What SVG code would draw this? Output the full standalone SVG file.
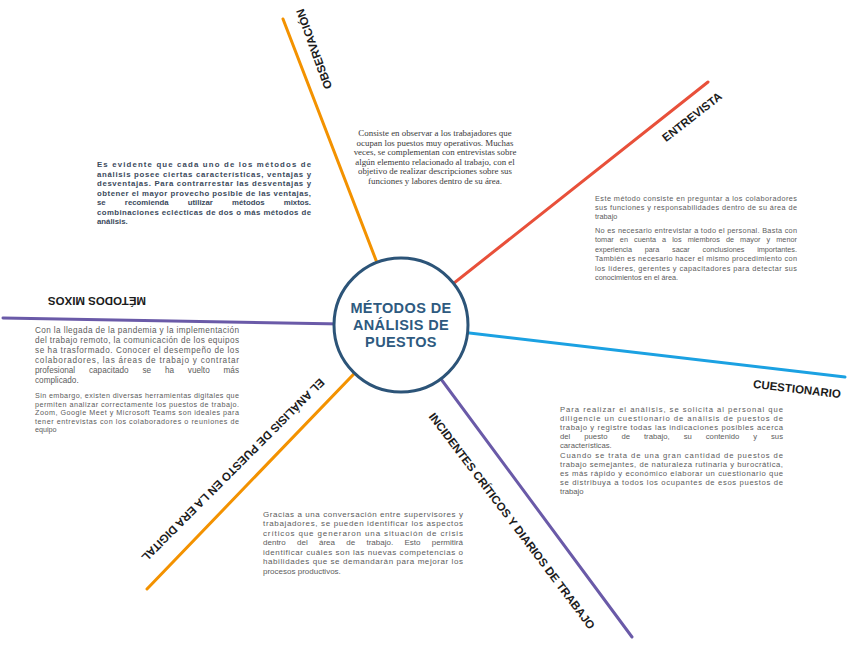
<svg xmlns="http://www.w3.org/2000/svg" width="848" height="655" viewBox="0 0 848 655">
<style>
.lbl{font-family:"Liberation Sans",Arial,sans-serif;font-weight:bold;font-size:11.5px;fill:#1c1c1c;text-anchor:middle}
.body{font-family:"Liberation Sans",Arial,sans-serif;fill:#5c5c5c}
.bold{font-family:"Liberation Sans",Arial,sans-serif;font-size:7.8px;font-weight:bold;fill:#3b4a5c}
.serif{font-family:"Liberation Serif","Times New Roman",serif;font-size:8.9px;fill:#3a3a3a;text-anchor:middle}
.br{fill:none;stroke-width:3;stroke-linecap:round}
.ctr{font-family:"Liberation Sans",Arial,sans-serif;font-weight:bold;font-size:14.5px;fill:#2e5a80;text-anchor:middle;letter-spacing:0.4px}
</style>
<rect width="848" height="655" fill="#ffffff"/>
<g id="connectors">
 <line class="br" x1="401" y1="325" x2="283" y2="19" stroke="#f39200"/>
 <line class="br" x1="401" y1="325" x2="708" y2="82" stroke="#e8503a"/>
 <line class="br" x1="401" y1="325" x2="845" y2="377" stroke="#1ba1e2"/>
 <line class="br" x1="401" y1="325" x2="3" y2="318" stroke="#6a5aa8"/>
 <line class="br" x1="401" y1="325" x2="147" y2="589" stroke="#f39200"/>
 <line class="br" x1="401" y1="325" x2="632" y2="637" stroke="#6a5aa8"/>
</g>
<g id="center">
 <circle cx="401" cy="325" r="67" fill="#ffffff" stroke="#2c5478" stroke-width="3"/>
 <text class="ctr" x="401" y="313">MÉTODOS DE</text>
 <text class="ctr" x="401" y="330">ANÁLISIS DE</text>
 <text class="ctr" x="401" y="347">PUESTOS</text>
</g>
<g id="observacion">
 <text class="lbl" font-size="11" transform="translate(314,49) rotate(-110)" y="4">OBSERVACIÓN</text>
 <g class="serif">
  <text x="435" y="136">Consiste en observar a los trabajadores que</text>
  <text x="435" y="145.5">ocupan los puestos muy operativos. Muchas</text>
  <text x="435" y="155">veces, se complementan con entrevistas sobre</text>
  <text x="435" y="164.5">algún elemento relacionado al trabajo, con el</text>
  <text x="435" y="174">objetivo de realizar descripciones sobre sus</text>
  <text x="435" y="183.5">funciones y labores dentro de su área.</text>
 </g>
</g>
<g id="entrevista">
 <text class="lbl" transform="translate(692,117) rotate(-38)" y="4">ENTREVISTA</text>
 <g class="body" font-size="7.3">
  <text x="595" y="200.5" textLength="202" lengthAdjust="spacing">Este método consiste en preguntar a los colaboradores</text>
  <text x="595" y="209.5" textLength="202" lengthAdjust="spacing">sus funciones y responsabilidades dentro de su área de</text>
  <text x="595" y="218.5">trabajo</text>
  <text x="595" y="232.5" textLength="202" lengthAdjust="spacing">No es necesario entrevistar a todo el personal. Basta con</text>
  <text x="595" y="242" textLength="202" lengthAdjust="spacing" word-spacing="4">tomar en cuenta a los miembros de mayor y menor</text>
  <text x="595" y="251.5" textLength="202" lengthAdjust="spacing" word-spacing="10.8">experiencia para sacar conclusiones importantes.</text>
  <text x="595" y="261" textLength="202" lengthAdjust="spacing">También es necesario hacer el mismo procedimiento con</text>
  <text x="595" y="270.5" textLength="202" lengthAdjust="spacing">los líderes, gerentes y capacitadores para detectar sus</text>
  <text x="595" y="280">conocimientos en el área.</text>
 </g>
</g>
<g id="cuestionario">
 <text class="lbl" transform="translate(797,389) rotate(6.7)" y="4">CUESTIONARIO</text>
 <g class="body" font-size="7.7">
  <text x="560" y="411.5" textLength="223" lengthAdjust="spacing">Para realizar el análisis, se solicita al personal que</text>
  <text x="560" y="420.5" textLength="223" lengthAdjust="spacing">diligencie un cuestionario de análisis de puestos de</text>
  <text x="560" y="429.5" textLength="223" lengthAdjust="spacing">trabajo y registre todas las indicaciones posibles acerca</text>
  <text x="560" y="438.5" textLength="223" lengthAdjust="spacing" word-spacing="11.8">del puesto de trabajo, su contenido y sus</text>
  <text x="560" y="447.5">características.</text>
  <text x="560" y="457.5" textLength="223" lengthAdjust="spacing">Cuando se trata de una gran cantidad de puestos de</text>
  <text x="560" y="466.5" textLength="223" lengthAdjust="spacing">trabajo semejantes, de naturaleza rutinaria y burocrática,</text>
  <text x="560" y="475.5" textLength="223" lengthAdjust="spacing">es más rápido y económico elaborar un cuestionario que</text>
  <text x="560" y="484.5" textLength="223" lengthAdjust="spacing">se distribuya a todos los ocupantes de esos puestos de</text>
  <text x="560" y="494">trabajo</text>
 </g>
</g>
<g id="metodos-mixos">
 <text class="lbl" font-size="12" transform="translate(97,301) rotate(180)" y="4">MÉTODOS MIXOS</text>
 <g class="bold">
  <text x="97" y="167" textLength="214" lengthAdjust="spacing">Es evidente que cada uno de los métodos de</text>
  <text x="97" y="176.5" textLength="214" lengthAdjust="spacing">análisis posee ciertas características, ventajas y</text>
  <text x="97" y="186" textLength="214" lengthAdjust="spacing">desventajas. Para contrarrestar las desventajas y</text>
  <text x="97" y="195.5" textLength="214" lengthAdjust="spacing">obtener el mayor provecho posible de las ventajas,</text>
  <text x="97" y="205" textLength="214" lengthAdjust="spacing" word-spacing="17">se recomienda utilizar métodos mixtos.</text>
  <text x="97" y="214.5" textLength="214" lengthAdjust="spacing">combinaciones eclécticas de dos o más métodos de</text>
  <text x="97" y="224">análisis.</text>
 </g>
</g>
<g id="era-digital">
 <text class="lbl" transform="translate(233,470) rotate(135)" y="4">EL ANÁLISIS DE PUESTO EN LA ERA DIGITAL</text>
 <g class="body" font-size="8.2">
  <text x="35" y="333" textLength="204" lengthAdjust="spacing">Con la llegada de la pandemia y la implementación</text>
  <text x="35" y="343" textLength="204" lengthAdjust="spacing">del trabajo remoto, la comunicación de los equipos</text>
  <text x="35" y="353" textLength="204" lengthAdjust="spacing">se ha trasformado. Conocer el desempeño de los</text>
  <text x="35" y="363" textLength="204" lengthAdjust="spacing">colaboradores, las áreas de trabajo y contratar</text>
  <text x="35" y="373" textLength="204" lengthAdjust="spacing" word-spacing="11.5">profesional capacitado se ha vuelto más</text>
  <text x="35" y="383">complicado.</text>
 </g>
 <g class="body" font-size="7.2">
  <text x="35" y="398" textLength="204" lengthAdjust="spacing">Sin embargo, existen diversas herramientas digitales que</text>
  <text x="35" y="406.5" textLength="204" lengthAdjust="spacing">permiten analizar correctamente los puestos de trabajo.</text>
  <text x="35" y="415" textLength="204" lengthAdjust="spacing">Zoom, Google Meet y Microsoft Teams son ideales para</text>
  <text x="35" y="423.5" textLength="204" lengthAdjust="spacing">tener entrevistas con los colaboradores o reuniones de</text>
  <text x="35" y="432">equipo</text>
 </g>
</g>
<g id="incidentes">
 <text class="lbl" font-size="12" transform="translate(512,521) rotate(53)" y="4">INCIDENTES CRÍTICOS Y DIARIOS DE TRABAJO</text>
 <g class="body" font-size="8">
  <text x="263" y="516.5" textLength="200" lengthAdjust="spacing">Gracias a una conversación entre supervisores y</text>
  <text x="263" y="526" textLength="200" lengthAdjust="spacing">trabajadores, se pueden identificar los aspectos</text>
  <text x="263" y="535.5" textLength="200" lengthAdjust="spacing">críticos que generaron una situación de crisis</text>
  <text x="263" y="545" textLength="200" lengthAdjust="spacing" word-spacing="9">dentro del área de trabajo. Esto permitirá</text>
  <text x="263" y="554.5" textLength="200" lengthAdjust="spacing">identificar cuáles son las nuevas competencias o</text>
  <text x="263" y="564" textLength="200" lengthAdjust="spacing">habilidades que se demandarán para mejorar los</text>
  <text x="263" y="573.5">procesos productivos.</text>
 </g>
</g>
</svg>
